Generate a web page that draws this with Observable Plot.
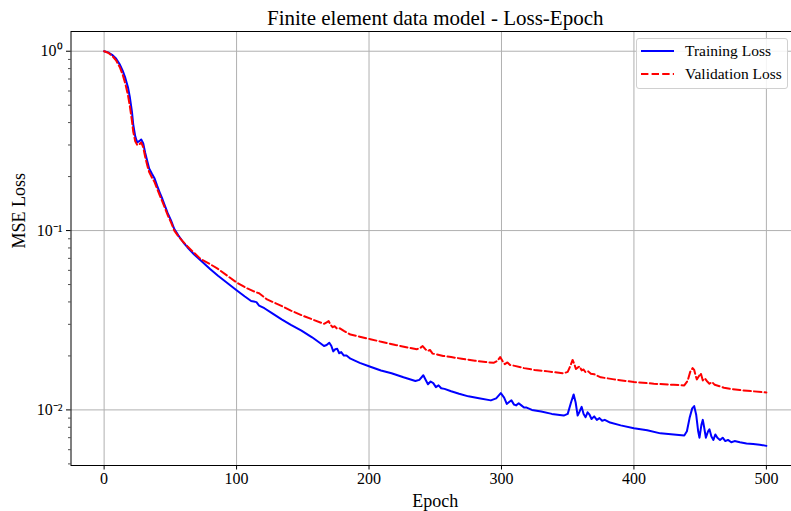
<!DOCTYPE html>
<html>
<head>
<meta charset="utf-8">
<script src="https://cdn.jsdelivr.net/npm/d3@7"></script>
<script src="https://cdn.jsdelivr.net/npm/@observablehq/plot@0.6"></script>
<style>
  html, body { margin: 0; padding: 0; background: #fff; }
  #wrap { position: relative; width: 791px; height: 511px; overflow: hidden; font-family: "Liberation Serif", "Times New Roman", serif; }
  #legend { position: absolute; left: 636px; top: 38px; width: 152px; height: 51px; box-sizing: border-box;
    border: 1px solid #d0d0d0; border-radius: 3px; background: rgba(255,255,255,0.85); font-size: 15.5px; color: #000; }
  .row { position: absolute; left: 0; height: 20px; display: flex; align-items: center; }
  .row svg { margin-left: 4px; }
  .row span { margin-left: 11px; white-space: nowrap; }
</style>
</head>
<body>
<div id="wrap"></div>
<script>
const titleText = "Finite element data model - Loss-Epoch";
const xLabel = "Epoch";
const yLabel = "MSE Loss";
const seriesNames = ["Training Loss", "Validation Loss"];
const xTicks = [0, 100, 200, 300, 400, 500];
const yMajor = [0.01, 0.1, 1];
const yMinor = [0.005, 0.006, 0.007, 0.008, 0.009, 0.02, 0.03, 0.04, 0.05, 0.06, 0.07, 0.08, 0.09, 0.2, 0.3, 0.4, 0.5, 0.6, 0.7, 0.8, 0.9];

const trainEpoch = [0,3,6,9,12,14,16,18,19.5,21,22,23.5,25,26.5,28,29.5,31,32.5,34,36,38,40,42,44,46,48,50.5,53,56,60,63,68,73,80,86,93,100,106,111,113,115,117,121,127,134,141,149,157,163,166,168,170,171.5,173,174.5,176,177.5,179,181,183,186,193,201,209,217,226,235,238,241,243,244.5,246.5,248.5,250.5,252.5,254.5,257,262,268,275,283,292,296,299.5,302,304,306,307.5,309.5,311,313,315,317,319,323,330,338,347,350,352.5,354.5,356,357.5,359,360.5,362,363.5,365,366.5,368,370,372,374,376,378,382,390,400,410,420,430,438,440,442,444,445.5,447,448.5,449.5,451,452,453,454.3,456,457,458.5,460,461.5,463,465,467,469,471,473.5,476,480,485,490,495,500];
const trainLoss = [1.0,0.985,0.955,0.91,0.84,0.78,0.71,0.63,0.55,0.46,0.39,0.335,0.31,0.315,0.322,0.307,0.272,0.245,0.222,0.208,0.196,0.178,0.163,0.150,0.137,0.125,0.114,0.102,0.094,0.0855,0.0805,0.0735,0.068,0.061,0.056,0.051,0.0465,0.043,0.0405,0.0402,0.0399,0.0382,0.0369,0.0345,0.0320,0.0298,0.0277,0.0254,0.0236,0.0227,0.023,0.0237,0.0228,0.0212,0.0218,0.0219,0.0207,0.0210,0.0201,0.0201,0.0193,0.0183,0.0174,0.0166,0.0160,0.0152,0.0145,0.0147,0.0156,0.0146,0.0139,0.0144,0.0141,0.0134,0.0137,0.0132,0.0131,0.0127,0.0123,0.0119,0.0116,0.0113,0.0116,0.0124,0.0117,0.0108,0.0111,0.0113,0.0107,0.0106,0.0109,0.0106,0.0103,0.0103,0.0100,0.0098,0.0095,0.0093,0.0095,0.0110,0.0122,0.0110,0.0093,0.0098,0.0104,0.0095,0.0091,0.0097,0.0094,0.0089,0.0092,0.0088,0.0090,0.0087,0.0088,0.0085,0.0082,0.0079,0.0077,0.0074,0.0073,0.0072,0.0076,0.0090,0.0102,0.0105,0.0094,0.0076,0.0070,0.0083,0.0088,0.0080,0.0070,0.0076,0.0078,0.0071,0.0068,0.0073,0.0070,0.0068,0.0070,0.0067,0.0068,0.0066,0.0067,0.0066,0.0065,0.00645,0.0064,0.0063];

const valEpoch = [0,3,6,9,12,14,16,18,19.5,21,22,23.5,25,26.5,28,29.5,31,32.5,34,36,38,40,42,44,46,48,50.5,53,56,60,63,68,73,80,86,93,100,107,113,117,123,133,141,150,158,166,168,169.5,171,172.6,174,176,178,181,186,193,201,210,220,229,236,238.5,240.5,242.5,244.3,246,248,251,256,262,270,280,288,294,297,299,301,302.5,304.5,306.5,310,317,325,335,347,350,352,353.7,355,356.2,357.5,359,360.5,362,363.5,365.5,367.5,370,375,385,400,415,430,438,440.5,442.5,444.3,445.5,446.5,447.5,449,450.5,452,453.5,455,457,459,461,464,468,473,480,490,500];
const valLoss = [1.0,0.98,0.945,0.89,0.81,0.74,0.66,0.57,0.49,0.41,0.355,0.315,0.30,0.302,0.31,0.292,0.258,0.232,0.212,0.198,0.187,0.171,0.157,0.145,0.133,0.122,0.111,0.100,0.093,0.086,0.0815,0.075,0.0693,0.065,0.0611,0.056,0.0514,0.048,0.0458,0.0447,0.0413,0.0383,0.0358,0.0335,0.0318,0.0302,0.0308,0.0313,0.0298,0.0289,0.0293,0.0283,0.0285,0.0276,0.0263,0.0256,0.0248,0.0239,0.0230,0.0223,0.0218,0.0221,0.0227,0.0218,0.0213,0.0216,0.0206,0.0204,0.0200,0.0197,0.0193,0.0188,0.0185,0.0183,0.0188,0.0197,0.0186,0.0180,0.0184,0.0178,0.0176,0.0171,0.0167,0.0164,0.0160,0.0163,0.0176,0.0190,0.0180,0.0169,0.0172,0.0175,0.0166,0.0168,0.0162,0.0164,0.0159,0.0158,0.0152,0.0148,0.0143,0.0140,0.0138,0.0137,0.0145,0.0163,0.0171,0.0167,0.0156,0.0148,0.0154,0.0160,0.0146,0.0150,0.0145,0.0140,0.0143,0.0138,0.0136,0.0133,0.0131,0.0129,0.0127,0.0125];

const train = trainEpoch.map((e, i) => ({epoch: e, loss: trainLoss[i]}));
const val = valEpoch.map((e, i) => ({epoch: e, loss: valLoss[i]}));

const supMap = {"-": "\u207B", "0": "\u2070", "1": "\u00B9", "2": "\u00B2", "3": "\u00B3"};
const fmtPow = d => "10" + String(Math.round(Math.log10(d))).split("").map(c => supMap[c]).join("");

const grid = {stroke: "#b0b0b0", strokeOpacity: 1, strokeWidth: 1};
const chart = Plot.plot({
  width: 791,
  height: 511,
  marginLeft: 70.5,
  marginRight: -8,
  marginTop: 31,
  marginBottom: 46,
  x: {domain: [-25, 525]},
  y: {type: "log", domain: [Math.pow(10, -2.31), Math.pow(10, 0.11)]},
  style: {fontFamily: "'Liberation Serif', 'Times New Roman', serif", fontSize: "15.5px", background: "white", color: "black", overflow: "hidden"},
  marks: [
    Plot.gridX(xTicks, grid),
    Plot.gridY(yMajor, grid),
    Plot.line(train, {x: "epoch", y: "loss", stroke: "#0000ff", strokeWidth: 2, strokeLinejoin: "round"}),
    Plot.line(val, {x: "epoch", y: "loss", stroke: "#ff0000", strokeWidth: 2, strokeDasharray: "7.4,3.2"}),
    Plot.axisX(xTicks, {tickSize: 4.5, tickPadding: 2.5, strokeWidth: 1, fontSize: 16, label: null}),
    Plot.axisY(yMajor, {tickSize: 4.5, tickPadding: 4, strokeWidth: 1, fontSize: 16, tickFormat: fmtPow, label: null}),
    Plot.axisY(yMinor, {tickSize: 2.5, strokeWidth: 0.7, tickFormat: () => "", label: null}),
    Plot.frame({stroke: "black", strokeWidth: 1}),
    Plot.text([titleText], {text: d => d, frameAnchor: "top", dy: -13, fontSize: 21, lineAnchor: "middle"}),
    Plot.text([xLabel], {text: d => d, frameAnchor: "bottom", dy: 36, fontSize: 18, lineAnchor: "middle"}),
    Plot.text([yLabel], {text: d => d, frameAnchor: "left", dx: -52, rotate: -90, fontSize: 18, lineAnchor: "middle"})
  ]
});

const wrap = document.getElementById("wrap");
wrap.appendChild(chart);

const legend = document.createElement("div");
legend.id = "legend";
const styles = [
  {stroke: "#0000ff", dash: null},
  {stroke: "#ff0000", dash: "7.4,3.2"}
];
seriesNames.forEach((name, i) => {
  const row = document.createElement("div");
  row.className = "row";
  row.style.top = (i === 0 ? 2 : 24.5) + "px";
  const st = styles[i];
  row.innerHTML = `<svg width="33" height="10"><line x1="0" x2="33" y1="5" y2="5" stroke="${st.stroke}" stroke-width="2" ${st.dash ? `stroke-dasharray="${st.dash}"` : ""}/></svg><span>${name}</span>`;
  legend.appendChild(row);
});
wrap.appendChild(legend);
</script>
</body>
</html>
